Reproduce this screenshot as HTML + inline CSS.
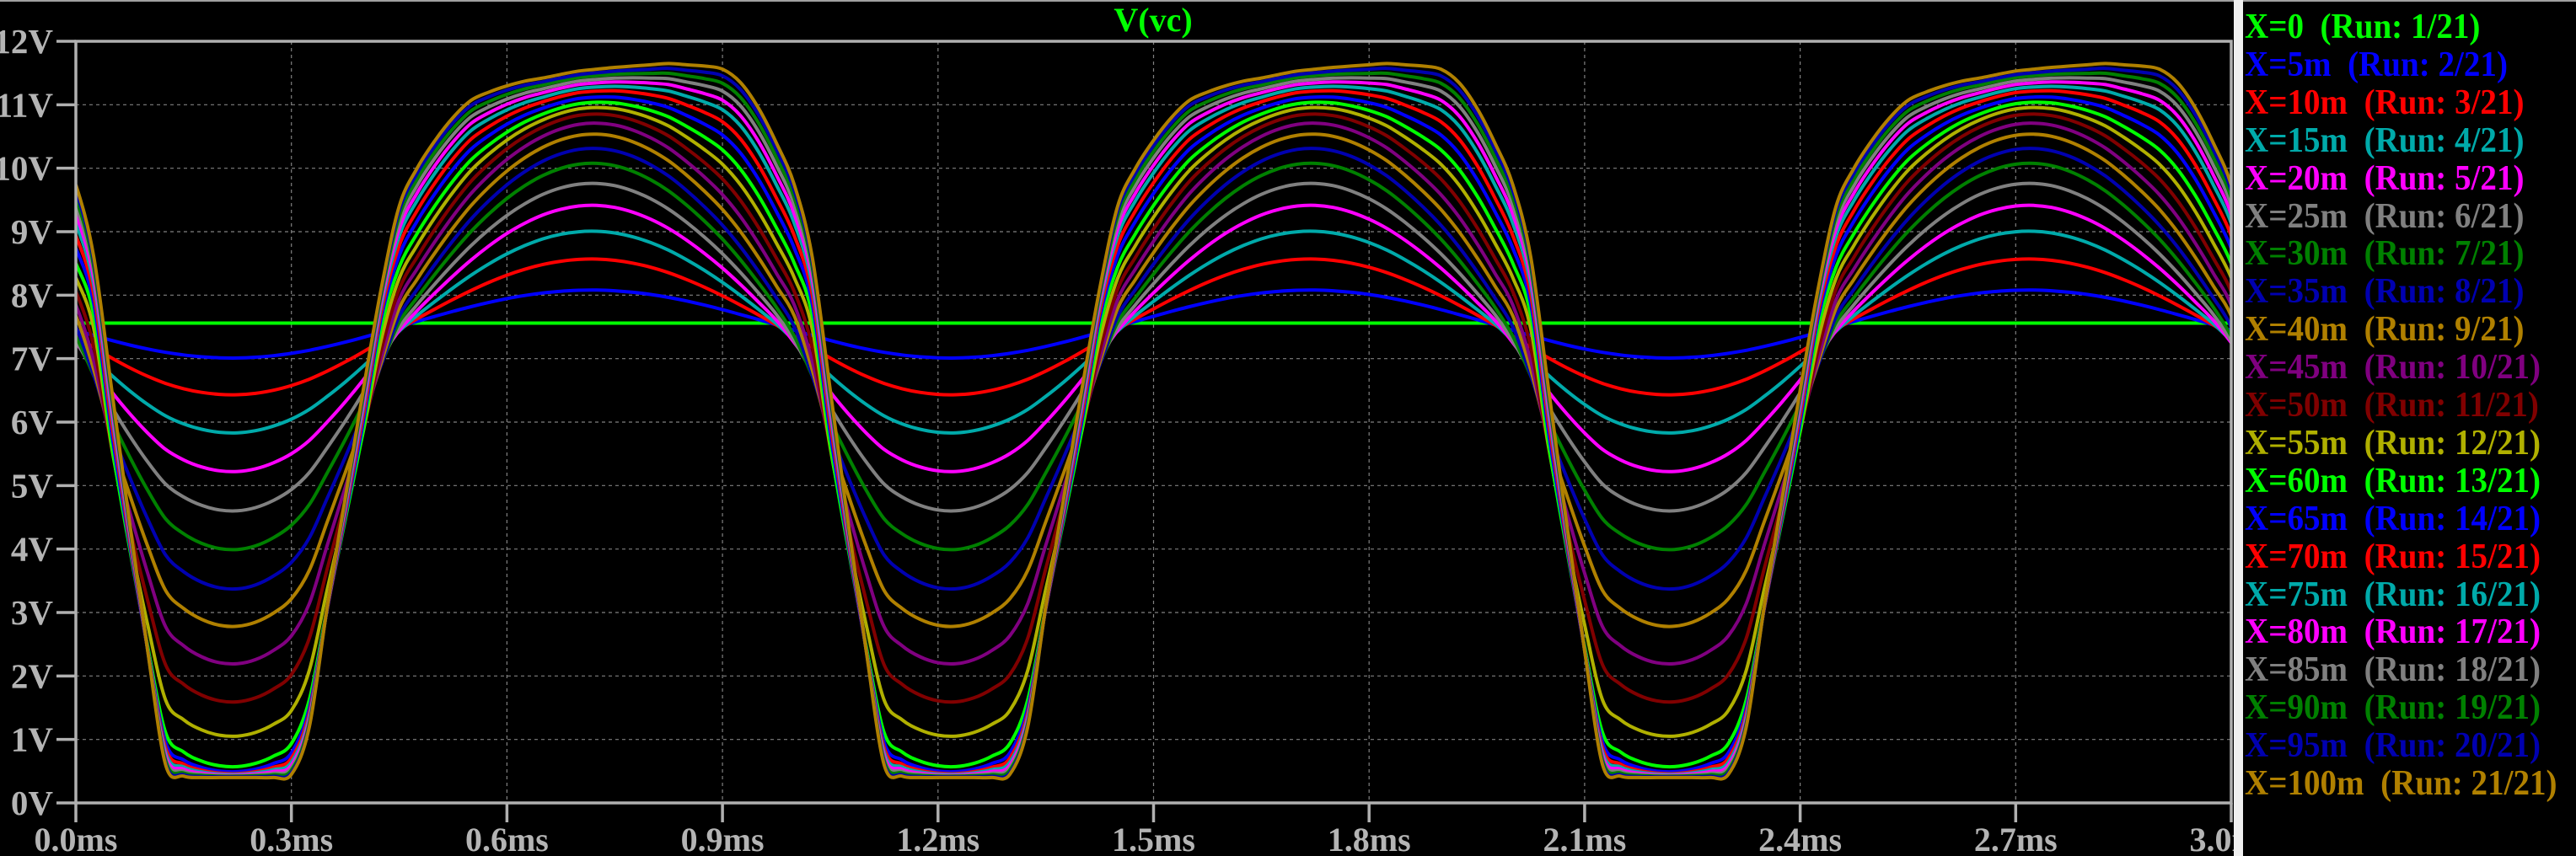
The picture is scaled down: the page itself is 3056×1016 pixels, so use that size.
<!DOCTYPE html>
<html><head><meta charset="utf-8"><title>V(vc)</title>
<style>
html,body{margin:0;padding:0;background:#000;}
#wrap{position:relative;width:3056px;height:1016px;background:#000;overflow:hidden;font-family:"Liberation Serif",serif;font-weight:bold;}
#topbar{position:absolute;left:0;top:0;width:3056px;height:2px;background:#a0a0a0;}
#sep{position:absolute;left:2650px;top:0;width:11px;height:1016px;background:#f0f0f0;}
#legend{position:absolute;left:2661px;top:5px;width:395px;height:1011px;background:#000;overflow:hidden;}
#legend div{position:absolute;left:2px;font-size:42px;white-space:pre;line-height:1;transform:scaleX(0.93);transform-origin:0 0;}
svg{position:absolute;left:0;top:0;}
</style></head>
<body>
<div id="wrap">
<svg id="chart" width="2650" height="1016"></svg>
<div id="topbar"></div>
<div id="sep"></div>
<div id="legend"></div>
</div>
<script>
const runLabels = ["X=0","X=5m","X=10m","X=15m","X=20m","X=25m","X=30m","X=35m","X=40m","X=45m","X=50m","X=55m","X=60m","X=65m","X=70m","X=75m","X=80m","X=85m","X=90m","X=95m","X=100m"];
const runColors = ["#00ff00","#0000ff","#ff0000","#00aaaa","#ff00ff","#808080","#008000","#0000b0","#b08000","#800080","#800000","#b0b000","#00ff00","#0000ff","#ff0000","#00aaaa","#ff00ff","#808080","#008000","#0000b0","#b08000"];
const vMin = [7.56,7.01,6.43,5.83,5.22,4.60,3.99,3.37,2.78,2.19,1.59,1.05,0.57,0.49,0.46,0.45,0.44,0.43,0.42,0.41,0.40];
const vMax = [7.56,8.08,8.57,9.01,9.42,9.77,10.09,10.33,10.56,10.74,10.89,11.00,11.09,11.18,11.28,11.35,11.42,11.48,11.54,11.59,11.65];
const shapeMix = [0,0,0.03,0.06,0.1,0.15,0.2,0.26,0.33,0.4,0.48,0.56,0.64,0.72,0.78,0.84,0.88,0.92,0.95,0.98,1];
const vBase = 7.56;
const periodMs = 1.0;
// normalized waveform samples per period (step 0.025ms)
const sineShape = [-.206,-.356,-.498,-.628,-.742,-.837,-.913,-.965,-.994,-.999,-.979,-.934,-.867,-.779,-.670,-.546,-.409,-.261,-.107,.050,.206,.356,.498,.628,.742,.837,.913,.965,.994,.999,.979,.934,.867,.779,.670,.546,.409,.261,.107,-.050];
const squareShape = [.533,.254,-.148,-.441,-.721,-.972,-.997,-1,-1,-1,-1,-1,-.993,-.888,-.623,-.385,-.148,.132,.450,.597,.704,.792,.858,.890,.914,.932,.944,.958,.971,.978,.985,.990,.995,1,.995,.990,.978,.927,.829,.694];
const yTicks = [0,1,2,3,4,5,6,7,8,9,10,11,12];
const xTicks = [0,0.3,0.6,0.9,1.2,1.5,1.8,2.1,2.4,2.7,3.0];
const xTickLabels = ["0.0ms","0.3ms","0.6ms","0.9ms","1.2ms","1.5ms","1.8ms","2.1ms","2.4ms","2.7ms","3.0ms"];
const tEnd = 3.0;

const X0=90, X1=2647, Y0=953, Y1=49;
const xs = t => X0 + t/tEnd*(X1-X0);
const ys = v => Y0 - v/12*(Y0-Y1);
const NS="http://www.w3.org/2000/svg";
const svg=document.getElementById('chart');
function mk(tag,attrs){const e=document.createElementNS(NS,tag);for(const k in attrs)e.setAttribute(k,attrs[k]);return e;}

const defs=mk('defs',{});
const cp=mk('clipPath',{id:'pc'});
cp.appendChild(mk('rect',{x:X0,y:Y1,width:X1-X0,height:Y0-Y1}));
defs.appendChild(cp);svg.appendChild(defs);

yTicks.forEach(v=>{
  if(v>0&&v<12){const g=mk('line',{x1:X0,x2:X1,y1:ys(v),y2:ys(v),stroke:'#808080','stroke-width':1.2,'stroke-dasharray':'4 4'});
  
  
  svg.appendChild(g);}
});
xTicks.forEach(t=>{
  if(t>0&&t<tEnd){const g=mk('line',{x1:xs(t),x2:xs(t),y1:Y1,y2:Y0,stroke:'#808080','stroke-width':1.2,'stroke-dasharray':'4 4'});
  
  
  svg.appendChild(g);}
});

const step = periodMs/sineShape.length;
runLabels.forEach((lab,k)=>{
  const pts=[];
  const n=Math.round(tEnd/step);
  for(let i=-1;i<=n+1;i++){
    const idx=((i%sineShape.length)+sineShape.length)%sineShape.length;
    const w=shapeMix[k];
    const s=(1-w)*sineShape[idx]+w*squareShape[idx];
    const v= s<0 ? vBase + s*(vBase-vMin[k]) : vBase + s*(vMax[k]-vBase);
    pts.push([xs(i*step),ys(v)]);
  }
  let d='M'+pts[1][0].toFixed(1)+','+pts[1][1].toFixed(1);
  for(let i=1;i<pts.length-2;i++){
    const p0=pts[i-1],p1=pts[i],p2=pts[i+1],p3=pts[i+2];
    const c1=[p1[0]+(p2[0]-p0[0])/6,p1[1]+(p2[1]-p0[1])/6];
    const c2=[p2[0]-(p3[0]-p1[0])/6,p2[1]-(p3[1]-p1[1])/6];
    d+=' C'+c1[0].toFixed(1)+','+c1[1].toFixed(1)+' '+c2[0].toFixed(1)+','+c2[1].toFixed(1)+' '+p2[0].toFixed(1)+','+p2[1].toFixed(1);
  }
  const p=mk('path',{d:d,fill:'none',stroke:runColors[k],'stroke-width':4,'clip-path':'url(#pc)','stroke-linejoin':'round'});
  
  
  svg.appendChild(p);
});

const fr=mk('rect',{x:X0,y:Y1,width:X1-X0,height:Y0-Y1,fill:'none',stroke:'#b0b0b0','stroke-width':3.5});


svg.appendChild(fr);

yTicks.forEach(v=>{
  const t=mk('line',{x1:67,x2:X0,y1:ys(v),y2:ys(v),stroke:'#b0b0b0','stroke-width':3.5});
  
  
  svg.appendChild(t);
  const tx=mk('text',{x:63,y:ys(v)+14,'text-anchor':'end','font-family':'Liberation Serif, serif','font-weight':'bold','font-size':41,fill:'#b4b4b4'});
  tx.textContent=v+'V';
  
  
  svg.appendChild(tx);
});
xTicks.forEach((t,i)=>{
  const l=mk('line',{x1:xs(t),x2:xs(t),y1:Y0,y2:976,stroke:'#b0b0b0','stroke-width':3.5});
  
  
  svg.appendChild(l);
  const tx=mk('text',{x:xs(t),y:1010,'text-anchor':'middle','font-family':'Liberation Serif, serif','font-weight':'bold','font-size':40,fill:'#b4b4b4'});
  tx.textContent=xTickLabels[i];
  
  
  svg.appendChild(tx);
});
const ti=mk('text',{x:1368,y:37,'text-anchor':'middle','font-family':'Liberation Serif, serif','font-weight':'bold','font-size':40,fill:'#00ff00'});
ti.textContent='V(vc)';


svg.appendChild(ti);

const lg=document.getElementById('legend');
runLabels.forEach((lab,k)=>{
  const d=document.createElement('div');
  
  
  d.style.top=(42-5-31+k*44.9)+'px';
  d.style.color=runColors[k];
  d.textContent=lab+'  (Run: '+(k+1)+'/21)';
  lg.appendChild(d);
});
</script>
</body></html>
